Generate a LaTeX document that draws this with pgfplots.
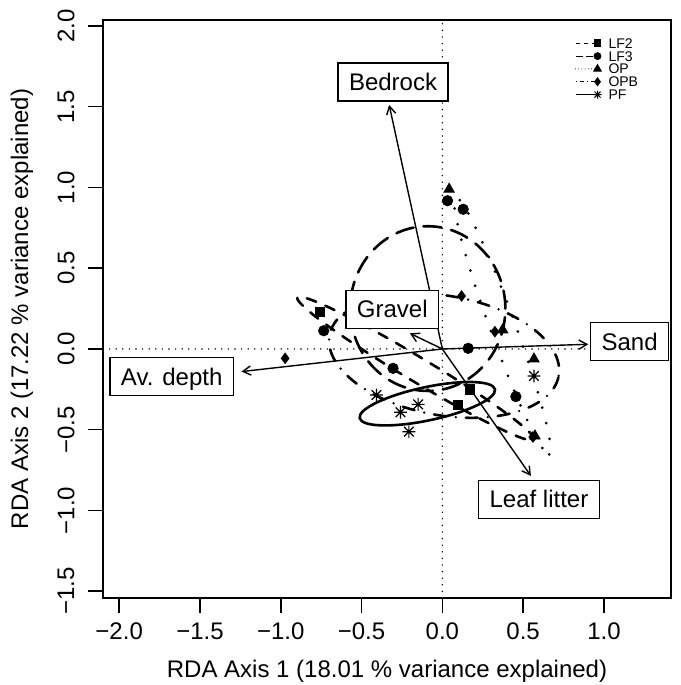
\documentclass[border=0pt]{standalone}
\usepackage{pgfplots}
\pgfplotsset{compat=1.18}
\usetikzlibrary{arrows.meta}
\usepackage{fontspec}
\setmainfont{Liberation Sans}

% R pch 8: plus and cross on top of each other
\pgfdeclareplotmark{rstar}{%
  \pgfpathmoveto{\pgfqpoint{-\pgfplotmarksize}{0pt}}%
  \pgfpathlineto{\pgfqpoint{\pgfplotmarksize}{0pt}}%
  \pgfpathmoveto{\pgfqpoint{0pt}{-\pgfplotmarksize}}%
  \pgfpathlineto{\pgfqpoint{0pt}{\pgfplotmarksize}}%
  \pgfpathmoveto{\pgfqpoint{-.75\pgfplotmarksize}{-.75\pgfplotmarksize}}%
  \pgfpathlineto{\pgfqpoint{.75\pgfplotmarksize}{.75\pgfplotmarksize}}%
  \pgfpathmoveto{\pgfqpoint{-.75\pgfplotmarksize}{.75\pgfplotmarksize}}%
  \pgfpathlineto{\pgfqpoint{.75\pgfplotmarksize}{-.75\pgfplotmarksize}}%
  \pgfusepathqstroke}

\tikzset{
  ell/.style={line width=1.3pt, line cap=round},
  lf2/.style={ell, dash pattern=on 5pt off 5pt},
  lf3/.style={ell, dash pattern=on 9pt off 5pt},
  op/.style={ell, line width=1.5pt, dash pattern=on 0pt off 8pt},
  opb/.style={ell, dash pattern=on 0pt off 5pt on 6pt off 5pt},
  env/.style={draw, fill=white, line width=0.7pt, inner xsep=5.5pt, inner ysep=5.2pt,
    text height=8.6pt, text depth=0pt, font=\fontsize{12}{14}\selectfont},
  arr/.style={line width=0.7pt, -{Straight Barb[length=4pt,width=4.6pt]}},
  zero/.style={line width=0.8pt, line cap=round, dash pattern=on 0pt off 3.3pt},
}

\begin{document}
\begin{tikzpicture}
\path[use as bounding box] (-51.5pt,-43.5pt) rectangle (288.5pt,299pt);
\begin{axis}[
  at={(0pt,0pt)}, anchor=south west,
  scale only axis, width=284pt, height=289pt,
  xmin=-2.10, xmax=1.415, ymin=-1.542, ymax=2.037,
  clip=false,
  axis line style={line width=0.75pt},
  tick align=outside, tick pos=left, major tick length=7.5pt,
  every tick/.style={black, line width=0.75pt},
  xtick={-2,-1.5,-1,-0.5,0,0.5,1},
  xticklabels={−2.0,−1.5,−1.0,−0.5,0.0,0.5,1.0},
  ytick={-1.5,-1,-0.5,0,0.5,1,1.5,2},
  yticklabels={−1.5,−1.0,−0.5,0.0,0.5,1.0,1.5,2.0},
  ticklabel style={font=\fontsize{12}{14}\selectfont},
  xticklabel style={anchor=center},
  xticklabel shift=9pt,
  yticklabel style={rotate=90, anchor=center},
  yticklabel shift=11pt,
  every axis x label/.style={at={(axis description cs:0.5,-0.1263)}, anchor=center,
    font=\fontsize{12}{14}\selectfont},
  every axis y label/.style={at={(axis description cs:-0.1426,0.5)}, rotate=90, anchor=center,
    font=\fontsize{12}{14}\selectfont},
  xlabel={RDA Axis 1 (18.01 \% variance explained)},
  ylabel={RDA Axis 2 (17.22 \% variance explained)},
  legend cell align=left,
  legend style={at={(axis description cs:0.831,0.9707)}, anchor=north west,
    draw=none, fill=none, inner sep=0pt, outer sep=0pt,
    font=\fontsize{7}{7}\selectfont, row sep=0pt, column sep=2pt,
    nodes={inner ysep=0.7pt, inner xsep=1.5pt, text height=5pt, text depth=0pt}},
  legend image code/.code={\draw[mark repeat=2, mark phase=2, #1]
    plot coordinates {(0pt,0pt) (11pt,0pt)};},
]

% zero lines
\addplot[zero, forget plot] coordinates {(-2.10,0) (1.415,0)};
\addplot[zero, forget plot] coordinates {(0,-1.542) (0,2.037)};

% site scores
\addplot[only marks, mark=square*, mark size=2.3pt, black, forget plot]
  coordinates {(-0.759,0.231) (0.170,-0.250) (0.098,-0.347)};
\addplot[only marks, mark=*, mark size=2.6pt, black, forget plot]
  coordinates {(0.032,0.918) (0.129,0.865) (-0.734,0.113) (0.160,0.004)
               (-0.305,-0.120) (0.455,-0.295)};
\addplot[only marks, mark=triangle*, mark size=3pt, black, forget plot]
  coordinates {(0.042,0.989) (0.373,0.118) (0.567,-0.062) (0.573,-0.539)};
\addplot[only marks, mark=diamond*, mark size=2.6pt, black, forget plot]
  coordinates {(0.119,0.328) (0.325,0.107) (-0.973,-0.058) (0.560,-0.545)};
\addplot[only marks, mark=rstar, mark size=3.2pt, black, line width=0.6pt, forget plot]
  coordinates {(0.567,-0.167) (-0.408,-0.285) (-0.150,-0.343) (-0.259,-0.392)
               (-0.207,-0.512)};

% group ellipses
\draw[lf2, rotate around={-31:(axis cs:-0.164,-0.122)}]
  (axis cs:-0.164,-0.122) ellipse [x radius=0.855, y radius=0.075];
\draw[lf3] (axis cs:-0.09,0.25) ellipse [x radius=0.48, y radius=0.51];
\draw[op, rotate around={-70:(axis cs:0.372,0.142)}]
  (axis cs:0.372,0.142) ellipse [x radius=0.845, y radius=0.078];
\draw[opb, rotate around={-10:(axis cs:0.011,-0.041)}]
  (axis cs:0.011,-0.041) ellipse [x radius=0.72, y radius=0.37];
\draw[ell, rotate around={12:(axis cs:-0.093,-0.339)}]
  (axis cs:-0.093,-0.339) ellipse [x radius=0.428, y radius=0.103];

% environmental vectors
\addplot[arr, forget plot] coordinates {(0,0) (-0.329,1.511)};
\addplot[arr, forget plot] coordinates {(0,0) (0.903,0.029)};
\addplot[arr, forget plot] coordinates {(0,0) (0.548,-0.786)};
\addplot[arr, forget plot] coordinates {(0,0) (-1.243,-0.140)};
\addplot[arr, forget plot] coordinates {(0,0) (-0.201,0.097)};

\node[env] at (axis cs:-0.305,1.653) {Bedrock};
\node[env] at (axis cs:1.159,0.045) {Sand};
\node[env] at (axis cs:0.598,-0.931) {Leaf litter};
\node[env] at (axis cs:-1.675,-0.171) {Av. depth};
\node[env] at (axis cs:-0.310,0.246) {Gravel};

% legend
\addlegendimage{line width=0.5pt, dash pattern=on 2pt off 2pt, mark=square*, mark size=1.7pt, mark options={solid}}
\addlegendentry{LF2}
\addlegendimage{line width=0.5pt, dash pattern=on 3.5pt off 1.5pt, mark=*, mark size=1.7pt, mark options={solid}}
\addlegendentry{LF3}
\addlegendimage{line width=0.5pt, line cap=round, dash pattern=on 0pt off 1.6pt, mark=triangle*, mark size=2.1pt, mark options={solid}}
\addlegendentry{OP}
\addlegendimage{line width=0.5pt, dash pattern=on 0.5pt off 1.5pt on 2pt off 1.5pt, mark=diamond*, mark size=1.9pt, mark options={solid}}
\addlegendentry{OPB}
\addlegendimage{line width=0.5pt, mark=rstar, mark size=2pt, mark options={solid}}
\addlegendentry{PF}
\end{axis}
\end{tikzpicture}
\end{document}
